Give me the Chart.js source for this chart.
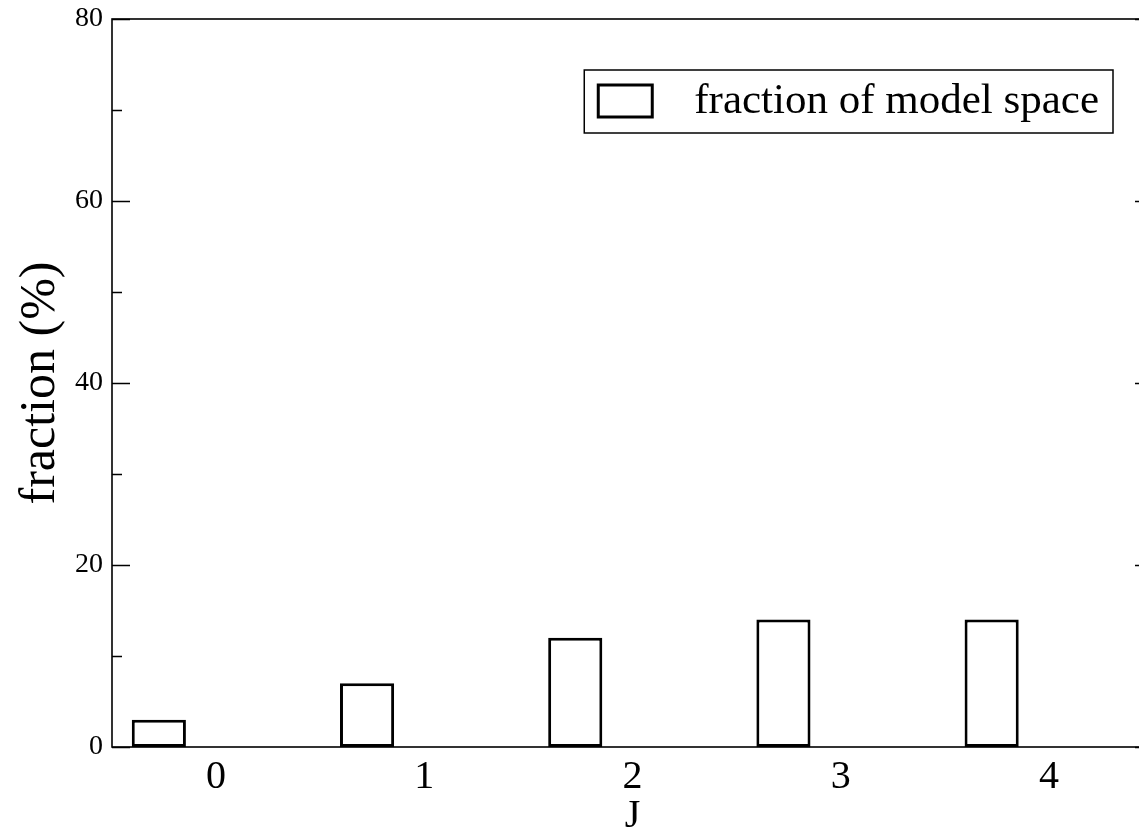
<!DOCTYPE html>
<html>
<head>
<meta charset="utf-8">
<script src="https://cdn.jsdelivr.net/npm/chart.js@4"></script>
<style>
  html, body { margin: 0; padding: 0; background: #fff; overflow: hidden; }
  #wrap { width: 1160px; height: 835px; }
</style>
</head>
<body>
<div id="wrap"><canvas id="plot_fraction"></canvas></div>
<script>
// J values and the share of model space (%) for each
var J = [0, 1, 2, 3, 4];
var fraction = [3, 7, 12, 14, 14];
var yTicks = [0, 20, 40, 60, 80];

// bars sit to the left of their J tick
var barShift = -0.275;

// box around the plot with inward ticks on both y sides
var frameTicks = {
  id: "frameTicks",
  afterDatasetsDraw(chart) {
    var ctx = chart.ctx;
    var a = chart.chartArea;
    var y = chart.scales.y;
    ctx.save();
    ctx.strokeStyle = "#000";
    ctx.lineWidth = 1.6;
    ctx.strokeRect(a.left, a.top, a.right - a.left, a.bottom - a.top);
    ctx.beginPath();
    for (var v = 0; v <= 80; v += 10) {
      var py = Math.round(y.getPixelForValue(v)) + 0.5;
      var len = v % 20 == 0 ? 18 : 10;
      ctx.moveTo(a.left, py);
      ctx.lineTo(a.left + len, py);
      ctx.moveTo(a.right, py);
      ctx.lineTo(a.right - len, py);
    }
    ctx.stroke();
    ctx.restore();
  },
};

// legend box drawn inside the plot, top right
var boxLegend = {
  id: "boxLegend",
  afterDraw(chart) {
    var ctx = chart.ctx;
    var a = chart.chartArea;
    var ds = chart.data.datasets[0];
    ctx.save();
    ctx.font = "43px 'Liberation Serif'";
    var tw = ctx.measureText(ds.label).width;
    var w = 112 + tw + 12;
    var right = a.right - 40;
    var left = right - w;
    var top = a.top + 51;
    var h = 63;
    ctx.fillStyle = "#fff";
    ctx.fillRect(left, top, w, h);
    ctx.strokeStyle = "#000";
    ctx.lineWidth = 1.5;
    ctx.strokeRect(left, top, w, h);
    ctx.lineWidth = 3;
    ctx.strokeRect(left + 14, top + 15, 54, 32);
    ctx.fillStyle = "#000";
    ctx.textBaseline = "alphabetic";
    ctx.fillText(ds.label, left + 110, top + 43);
    ctx.restore();
  },
};

var plot_fraction = new Chart(document.getElementById("plot_fraction"), {
  type: "bar",
  data: {
    datasets: [
      {
        label: "fraction of model space",
        data: J.map((j, i) => ({ x: j + barShift, y: fraction[i] })),
        backgroundColor: "#fff",
        borderColor: "#000",
        borderWidth: 3,
        borderSkipped: false,
        categoryPercentage: 1,
        barPercentage: 0.26,
      },
    ],
  },
  options: {
    responsive: true,
    maintainAspectRatio: false,
    animation: false,
    layout: { padding: { top: 19, right: 7, left: 0, bottom: 0 } },
    plugins: {
      legend: { display: false },
      tooltip: { enabled: false },
    },
    scales: {
      x: {
        type: "linear",
        offset: false,
        min: -0.5,
        max: 4.5,
        afterBuildTicks: (s) => {
          s.ticks = J.map((v) => ({ value: v }));
        },
        afterFit: (s) => {
          s.height = 88;
          s.paddingLeft = 0;
          s.paddingRight = 0;
        },
        grid: { display: false, drawTicks: false },
        border: { display: false },
        ticks: {
          padding: 6,
          color: "#000",
          font: { family: "Liberation Serif", size: 40 },
        },
        title: {
          display: true,
          text: "J",
          color: "#000",
          padding: { top: 0, bottom: -1 },
          font: { family: "Liberation Serif", size: 40, lineHeight: 1 },
        },
      },
      y: {
        min: 0,
        max: 80,
        afterBuildTicks: (s) => {
          s.ticks = yTicks.map((v) => ({ value: v }));
        },
        afterFit: (s) => {
          s.width = 112;
          s.paddingTop = 0;
          s.paddingBottom = 0;
        },
        grid: { display: false, drawTicks: false },
        border: { display: false },
        ticks: {
          padding: 9,
          color: "#000",
          font: { family: "Liberation Serif", size: 28 },
        },
        title: {
          display: true,
          text: "fraction (%)",
          color: "#000",
          padding: { top: 16, bottom: 0 },
          font: { family: "Liberation Serif", size: 50, lineHeight: 1 },
        },
      },
    },
  },
  plugins: [frameTicks, boxLegend],
});
</script>
</body>
</html>
